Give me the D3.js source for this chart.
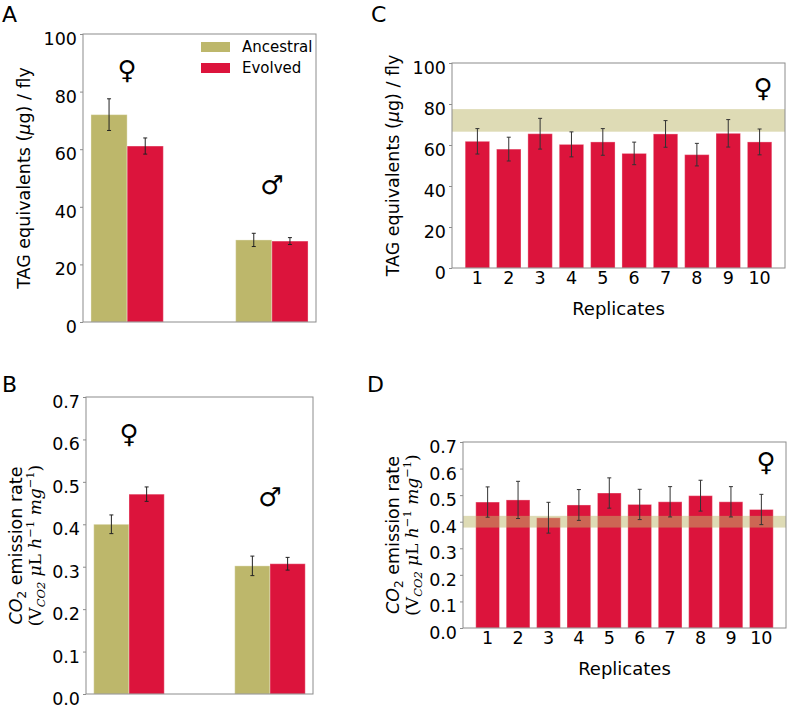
<!DOCTYPE html>
<html><head><meta charset="utf-8">
<script src="https://cdn.jsdelivr.net/npm/d3@7/dist/d3.min.js"></script>
<style>body{margin:0;background:#fff}svg{display:block}text{font-family:"DejaVu Sans",sans-serif;fill:#000}</style>
</head><body>
<svg id="chart" width="788" height="709"></svg>
<script>
// ---------- data ----------
const groups = ["female", "male"];
const sexSymbols = ["♀", "♂"];
const seriesNames = ["Ancestral", "Evolved"];
const seriesColors = ["#BDB76B", "#DC143C"];

const tagAncestral = [72.0, 28.5];
const tagAncestralErr = [5.5, 2.3];
const tagEvolved = [61.1, 28.1];
const tagEvolvedErr = [2.8, 1.2];

const co2Ancestral = [0.400, 0.302];
const co2AncestralErr = [0.022, 0.023];
const co2Evolved = [0.471, 0.307];
const co2EvolvedErr = [0.017, 0.015];

const replicates = ["1","2","3","4","5","6","7","8","9","10"];
const tagReplicates = [61.8, 58.0, 65.5, 60.3, 61.5, 55.9, 65.4, 55.3, 65.7, 61.5];
const tagReplicatesErr = [6.2, 5.8, 7.5, 6.1, 6.5, 5.5, 6.5, 5.5, 6.7, 6.3];
const co2Replicates = [0.474, 0.482, 0.415, 0.463, 0.508, 0.465, 0.475, 0.498, 0.475, 0.446];
const co2ReplicatesErr = [0.057, 0.070, 0.058, 0.058, 0.057, 0.057, 0.057, 0.058, 0.057, 0.057];

const tagTicks = [0, 20, 40, 60, 80, 100];
const co2Ticks = [0, 0.1, 0.2, 0.3, 0.4, 0.5, 0.6, 0.7];

// ---------- drawing ----------
const svg = d3.select("#chart");
const FS = 17.5;

function frameAndYAxis(g, box, y, ticks, fmt) {
  g.append("rect").attr("x", box.x0).attr("y", box.y0)
    .attr("width", box.x1 - box.x0).attr("height", box.y1 - box.y0)
    .attr("fill", "none").attr("stroke", "#8c8c8c").attr("stroke-width", 1);
  const ax = g.append("g").attr("transform", `translate(${box.x0},0)`)
    .call(d3.axisLeft(y).tickValues(ticks).tickFormat(fmt).tickSize(3).tickPadding(3));
  ax.select(".domain").remove();
  ax.selectAll(".tick line").attr("stroke", "#8c8c8c");
  ax.selectAll(".tick text").attr("font-size", FS).attr("font-family", "DejaVu Sans")
    .attr("dy", "0.6em").attr("fill", "#000");
}

function errorBars(g, data, xc, y, color) {
  const eb = g.append("g").attr("stroke", color || "#222").attr("stroke-width", 1);
  data.forEach(d => {
    const cx = xc(d);
    eb.append("line").attr("x1", cx).attr("x2", cx).attr("y1", y(d.v - d.e)).attr("y2", y(d.v + d.e));
    eb.append("line").attr("x1", cx - 2).attr("x2", cx + 2).attr("y1", y(d.v - d.e)).attr("y2", y(d.v - d.e));
    eb.append("line").attr("x1", cx - 2).attr("x2", cx + 2).attr("y1", y(d.v + d.e)).attr("y2", y(d.v + d.e));
  });
}

function tagLabel(g, x, yc) {
  const t = g.append("text").attr("transform", `translate(${x},${yc}) rotate(-90)`)
    .attr("text-anchor", "middle").attr("font-size", FS);
  t.append("tspan").text("TAG equivalents (");
  t.append("tspan").attr("font-style", "italic").text("μ");
  t.append("tspan").text("g) / fly");
}

function co2Label(g, x, yc) {
  const t1 = g.append("text").attr("transform", `translate(${x},${yc}) rotate(-90)`)
    .attr("text-anchor", "middle").attr("font-size", FS);
  t1.append("tspan").attr("font-style", "italic").text("CO");
  t1.append("tspan").attr("font-size", 12).attr("dy", 4).text("2");
  t1.append("tspan").attr("dy", -4).text(" emission rate");
  const t2 = g.append("text").attr("transform", `translate(${x + 19},${yc}) rotate(-90)`)
    .attr("text-anchor", "middle").attr("font-size", 17).style("font-family", "'DejaVu Serif', serif");
  t2.append("tspan").text("(V");
  t2.append("tspan").attr("font-size", 11.5).attr("font-style", "italic").attr("dy", 4).text("CO2");
  t2.append("tspan").attr("dy", -4).attr("font-style", "italic").text(" μ");
  t2.append("tspan").text("L ");
  t2.append("tspan").attr("font-style", "italic").text("h");
  t2.append("tspan").attr("font-size", 11.5).attr("dy", -7).text("−1");
  t2.append("tspan").attr("dy", 7).attr("font-style", "italic").text("  mg");
  t2.append("tspan").attr("font-size", 11.5).attr("dy", -7).text("−1");
  t2.append("tspan").attr("dy", 7).text(")");
}

function panelLetter(g, letter, x, y) {
  g.append("text").attr("x", x).attr("y", y).attr("font-size", 22).text(letter);
}

function symbol(g, s, x, y) {
  g.append("text").attr("x", x).attr("y", y).attr("text-anchor", "middle")
    .attr("dominant-baseline", "central").attr("font-size", 26).text(s);
}

// grouped panels A and B
function groupedPanel(box, domainMax, ticks, fmt, anc, ancErr, evo, evoErr, symY) {
  const g = svg.append("g");
  const x0 = d3.scaleBand().domain(groups).range([box.x0, box.x1]).paddingInner(0.5).paddingOuter(0.055);
  const x1 = d3.scaleBand().domain(seriesNames).range([0, x0.bandwidth()]);
  const y = d3.scaleLinear().domain([0, domainMax]).range([box.y1, box.y0]);
  const data = [];
  groups.forEach((gr, i) => {
    data.push({g: gr, s: seriesNames[0], v: anc[i], e: ancErr[i]});
    data.push({g: gr, s: seriesNames[1], v: evo[i], e: evoErr[i]});
  });
  g.selectAll("rect.bar").data(data).enter().append("rect").attr("class", "bar")
    .attr("x", d => x0(d.g) + x1(d.s)).attr("width", x1.bandwidth())
    .attr("y", d => y(d.v)).attr("height", d => y(0) - y(d.v))
    .attr("fill", d => seriesColors[seriesNames.indexOf(d.s)])
    .attr("stroke", "rgba(255,255,255,0.35)").attr("stroke-width", 1);
  errorBars(g, data, d => x0(d.g) + x1(d.s) + x1.bandwidth() / 2, y);
  frameAndYAxis(g, box, y, ticks, fmt);
  groups.forEach((gr, i) => symbol(g, sexSymbols[i], x0(gr) + x0.bandwidth() / 2, y(symY[i])));
  return {g, y};
}

// replicate panels C and D
function replicatePanel(box, domainMax, ticks, fmt, vals, errs, bandV, bandE) {
  const g = svg.append("g");
  const x = d3.scaleBand().domain(replicates).range([box.x0, box.x1]).paddingInner(0.22).paddingOuter(0.42);
  const y = d3.scaleLinear().domain([0, domainMax]).range([box.y1, box.y0]);
  const data = replicates.map((r, i) => ({r, v: vals[i], e: errs[i]}));
  g.selectAll("rect.bar").data(data).enter().append("rect").attr("class", "bar")
    .attr("x", d => x(d.r)).attr("width", x.bandwidth())
    .attr("y", d => y(d.v)).attr("height", d => y(0) - y(d.v))
    .attr("fill", seriesColors[1]).attr("stroke", "rgba(255,255,255,0.35)").attr("stroke-width", 1);
  g.append("rect").attr("x", box.x0).attr("width", box.x1 - box.x0)
    .attr("y", y(bandV + bandE)).attr("height", y(bandV - bandE) - y(bandV + bandE))
    .attr("fill", seriesColors[0]).attr("fill-opacity", 0.5);
  errorBars(g, data, d => x(d.r) + x.bandwidth() / 2, y, "#333");
  frameAndYAxis(g, box, y, ticks, fmt);
  const xa = g.append("g").attr("transform", `translate(0,${box.y1})`)
    .call(d3.axisBottom(x).tickSize(0).tickPadding(4));
  xa.select(".domain").remove();
  xa.selectAll(".tick text").attr("font-size", FS).attr("font-family", "DejaVu Sans").attr("fill", "#000");
  g.append("text").attr("x", (box.x0 + box.x1) / 2).attr("y", box.y1 + 47)
    .attr("text-anchor", "middle").attr("font-size", 18).text("Replicates");
  return {g, y, x};
}

const fmtInt = d3.format("d");
const fmt1 = d3.format(".1f");

// Panel A
const boxA = {x0: 83, x1: 316, y0: 34, y1: 322};
const pA = groupedPanel(boxA, 100, tagTicks, fmtInt, tagAncestral, tagAncestralErr, tagEvolved, tagEvolvedErr, [87.5, 47.5]);
tagLabel(pA.g, 30, (boxA.y0 + boxA.y1) / 2);
panelLetter(pA.g, "A", 2, 22);
// legend
const leg = pA.g.append("g");
seriesNames.forEach((s, i) => {
  leg.append("rect").attr("x", 201).attr("y", 42 + i * 21).attr("width", 29).attr("height", 10).attr("fill", seriesColors[i]);
  leg.append("text").attr("x", 242).attr("y", 47 + i * 21).attr("dominant-baseline", "central")
    .attr("font-size", 15).text(s);
});

// Panel B
const boxB = {x0: 86, x1: 313, y0: 397, y1: 694};
const pB = groupedPanel(boxB, 0.7, co2Ticks, fmt1, co2Ancestral, co2AncestralErr, co2Evolved, co2EvolvedErr, [0.612, 0.465]);
co2Label(pB.g, 22, (boxB.y0 + boxB.y1) / 2);
panelLetter(pB.g, "B", 2, 392);

// Panel C
const boxC = {x0: 452, x1: 785, y0: 63, y1: 268};
const pC = replicatePanel(boxC, 100, tagTicks, fmtInt, tagReplicates, tagReplicatesErr, tagAncestral[0], tagAncestralErr[0]);
tagLabel(pC.g, 399, (boxC.y0 + boxC.y1) / 2);
panelLetter(pC.g, "C", 371, 22);
symbol(pC.g, sexSymbols[0], 763, pC.y(88));

// Panel D
const boxD = {x0: 463, x1: 786, y0: 442, y1: 628};
const pD = replicatePanel(boxD, 0.7, co2Ticks, fmt1, co2Replicates, co2ReplicatesErr, co2Ancestral[0], co2AncestralErr[0]);
co2Label(pD.g, 399, (boxD.y0 + boxD.y1) / 2);
panelLetter(pD.g, "D", 367, 392);
symbol(pD.g, sexSymbols[0], 766, pD.y(0.625));
</script>
</body></html>
